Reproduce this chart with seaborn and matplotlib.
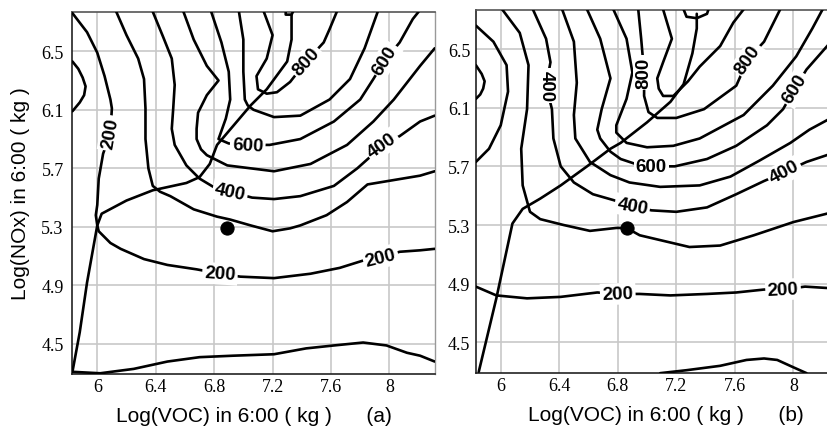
import matplotlib
matplotlib.use('Agg')
import matplotlib.pyplot as plt
import seaborn as sns

# ---------------- data ----------------
x_ticks = [6, 6.4, 6.8, 7.2, 7.6, 8]
x_tick_labels = ['6', '6.4', '6.8', '7.2', '7.6', '8']
y_ticks = [4.5, 4.9, 5.3, 5.7, 6.1, 6.5]
y_tick_labels = ['4.5', '4.9', '5.3', '5.7', '6.1', '6.5']

# panel (a) isopleths
L_arc100_x = [5.83, 5.87, 5.90, 5.92, 5.91, 5.88, 5.83]
L_arc100_y = [6.43, 6.38, 6.32, 6.26, 6.20, 6.15, 6.09]
L_200_x = [5.83, 5.93, 6.00, 6.05, 6.09, 6.10, 6.09, 6.04, 6.01, 6.00, 5.99, 6.00, 6.01, 6.04, 6.09, 6.16, 6.32, 6.48, 6.68, 6.84, 6.98, 7.21, 7.46, 7.66, 7.82, 7.94, 8.07, 8.21, 8.31]
L_200_y = [6.76, 6.63, 6.49, 6.33, 6.17, 6.11, 5.94, 5.80, 5.63, 5.45, 5.38, 5.31, 5.27, 5.24, 5.19, 5.15, 5.08, 5.04, 5.01, 4.98, 4.96, 4.95, 4.98, 5.02, 5.07, 5.09, 5.13, 5.14, 5.15]
L_300_x = [6.13, 6.20, 6.28, 6.32, 6.33, 6.33, 6.35, 6.38, 6.43, 6.50, 6.66, 6.82, 6.91, 7.05, 7.20, 7.32, 7.39, 7.57, 7.71, 7.85, 8.21, 8.31]
L_300_y = [6.77, 6.61, 6.45, 6.31, 6.11, 5.90, 5.70, 5.58, 5.54, 5.51, 5.42, 5.37, 5.35, 5.31, 5.27, 5.29, 5.31, 5.38, 5.47, 5.59, 5.65, 5.68]
L_400_x = [6.38, 6.45, 6.51, 6.53, 6.52, 6.51, 6.53, 6.57, 6.61, 6.70, 6.80, 6.91, 7.06, 7.21, 7.39, 7.62, 7.78, 7.87, 7.95, 8.07, 8.21, 8.31]
L_400_y = [6.77, 6.60, 6.45, 6.27, 6.11, 5.97, 5.86, 5.79, 5.72, 5.63, 5.57, 5.54, 5.50, 5.49, 5.51, 5.58, 5.70, 5.78, 5.86, 5.92, 6.02, 6.06]
L_500_x = [6.59, 6.66, 6.75, 6.83, 6.75, 6.69, 6.68, 6.68, 6.71, 6.75, 6.89, 7.05, 7.21, 7.46, 7.71, 7.89, 8.03, 8.21, 8.31]
L_500_y = [6.77, 6.58, 6.40, 6.30, 6.20, 6.08, 5.97, 5.90, 5.83, 5.79, 5.72, 5.70, 5.68, 5.73, 5.86, 6.02, 6.17, 6.40, 6.52]
L_600_x = [6.78, 6.85, 6.90, 6.91, 6.88, 6.83, 6.90, 7.03, 7.18, 7.39, 7.62, 7.80, 7.89, 7.97, 8.07, 8.16, 8.20]
L_600_y = [6.77, 6.56, 6.36, 6.17, 6.04, 5.90, 5.87, 5.86, 5.86, 5.90, 6.02, 6.17, 6.31, 6.44, 6.56, 6.72, 6.77]
L_700_x = [6.97, 7.00, 7.00, 7.01, 7.03, 7.07, 7.21, 7.39, 7.59, 7.73, 7.83, 7.92]
L_700_y = [6.77, 6.58, 6.36, 6.17, 6.13, 6.10, 6.05, 6.06, 6.17, 6.31, 6.52, 6.77]
L_800_x = [7.14, 7.20, 7.16, 7.09, 7.10, 7.16, 7.23, 7.32, 7.43, 7.55, 7.59, 7.64]
L_800_y = [6.77, 6.61, 6.45, 6.33, 6.24, 6.21, 6.22, 6.29, 6.43, 6.56, 6.65, 6.77]
L_900_x = [7.29, 7.29, 7.33, 7.35]
L_900_y = [6.79, 6.75, 6.75, 6.79]
L_100_x = [5.83, 6.02, 6.25, 6.48, 6.70, 6.93, 7.21, 7.43, 7.62, 7.82, 7.98, 8.12, 8.21, 8.31]
L_100_y = [4.31, 4.30, 4.33, 4.38, 4.41, 4.42, 4.43, 4.47, 4.49, 4.51, 4.49, 4.44, 4.42, 4.38]
L_ridge_x = [5.83, 5.88, 5.93, 6.00, 6.03, 6.20, 6.38, 6.61, 6.70, 6.77, 6.82, 7.05, 7.16, 7.30, 7.33, 7.33]
L_ridge_y = [4.31, 4.58, 4.92, 5.31, 5.39, 5.48, 5.55, 5.60, 5.64, 5.73, 5.86, 6.13, 6.24, 6.43, 6.58, 6.75]
L_dot_x = [6.89]
L_dot_y = [5.29]
L_lab_txt = ['200', '200', '200', '400', '400', '600', '600', '800']
L_lab_x = [6.09, 6.84, 7.94, 6.91, 7.95, 7.03, 7.97, 7.43]
L_lab_y = [5.94, 4.98, 5.09, 5.54, 5.86, 5.86, 6.44, 6.43]
L_lab_rot = [80, -4, 14, -12, 35, -3, 58, 48]

# panel (b) isopleths
R_arc100_x = [5.83, 5.87, 5.89, 5.88, 5.86, 5.83]
R_arc100_y = [6.39, 6.33, 6.28, 6.23, 6.19, 6.16]
R_arc200_x = [5.83, 5.95, 6.04, 6.05, 6.00, 5.92, 5.83]
R_arc200_y = [6.66, 6.55, 6.39, 6.21, 5.98, 5.82, 5.73]
R_200_x = [5.83, 5.97, 6.18, 6.41, 6.66, 6.80, 6.95, 7.16, 7.41, 7.61, 7.80, 7.93, 8.08, 8.24]
R_200_y = [4.88, 4.82, 4.80, 4.81, 4.84, 4.83, 4.83, 4.82, 4.83, 4.84, 4.86, 4.86, 4.88, 4.87]
R_300_x = [6.01, 6.13, 6.19, 6.18, 6.14, 6.15, 6.20, 6.27, 6.43, 6.61, 6.79, 6.86, 6.95, 7.29, 7.50, 7.73, 8.00, 8.24]
R_300_y = [6.77, 6.61, 6.39, 6.09, 5.82, 5.57, 5.39, 5.34, 5.30, 5.26, 5.28, 5.28, 5.23, 5.15, 5.16, 5.23, 5.32, 5.38]
R_400_x = [6.22, 6.31, 6.34, 6.31, 6.35, 6.36, 6.41, 6.50, 6.63, 6.77, 6.90, 7.03, 7.20, 7.41, 7.61, 7.80, 7.94, 8.09, 8.24]
R_400_y = [6.77, 6.57, 6.41, 6.25, 6.09, 5.89, 5.70, 5.59, 5.51, 5.47, 5.43, 5.40, 5.39, 5.42, 5.51, 5.60, 5.66, 5.73, 5.78]
R_500_x = [6.42, 6.50, 6.52, 6.50, 6.51, 6.61, 6.75, 6.88, 7.09, 7.36, 7.57, 7.77, 7.98, 8.11, 8.24]
R_500_y = [6.77, 6.55, 6.27, 6.05, 5.89, 5.73, 5.64, 5.59, 5.56, 5.57, 5.63, 5.74, 5.86, 5.95, 6.02]
R_600_x = [6.59, 6.68, 6.75, 6.69, 6.66, 6.68, 6.75, 6.82, 6.91, 7.03, 7.19, 7.41, 7.61, 7.82, 7.93, 8.01, 8.09, 8.24]
R_600_y = [6.77, 6.57, 6.30, 6.09, 5.95, 5.89, 5.80, 5.75, 5.72, 5.70, 5.70, 5.75, 5.84, 5.98, 6.09, 6.23, 6.36, 6.53]
R_700_x = [6.77, 6.86, 6.90, 6.86, 6.79, 6.79, 6.86, 7.00, 7.18, 7.36, 7.66, 7.86, 8.02, 8.13, 8.20]
R_700_y = [6.77, 6.57, 6.34, 6.16, 5.98, 5.93, 5.86, 5.83, 5.84, 5.89, 6.05, 6.25, 6.45, 6.64, 6.77]
R_800_x = [6.94, 6.96, 6.98, 6.98, 7.01, 7.07, 7.20, 7.39, 7.61, 7.69, 7.80, 7.91]
R_800_y = [6.77, 6.57, 6.34, 6.18, 6.07, 6.03, 6.03, 6.09, 6.25, 6.43, 6.55, 6.77]
R_900_x = [7.11, 7.17, 7.11, 7.07, 7.08, 7.11, 7.18, 7.28, 7.36, 7.50, 7.59, 7.66]
R_900_y = [6.77, 6.57, 6.41, 6.30, 6.23, 6.18, 6.18, 6.28, 6.38, 6.52, 6.68, 6.77]
R_1000_x = [7.25, 7.27, 7.34, 7.41, 7.42]
R_1000_y = [6.77, 6.72, 6.71, 6.74, 6.77]
R_100_x = [7.09, 7.27, 7.50, 7.68, 7.80, 7.89, 8.00, 8.09]
R_100_y = [4.29, 4.31, 4.34, 4.38, 4.39, 4.38, 4.33, 4.29]
R_ridge_x = [5.85, 5.97, 6.08, 6.15, 6.27, 6.41, 6.59, 6.75, 6.82, 7.00, 7.16, 7.25, 7.31, 7.34, 7.34]
R_ridge_y = [4.30, 4.80, 5.31, 5.41, 5.48, 5.57, 5.70, 5.82, 5.86, 6.00, 6.14, 6.26, 6.47, 6.64, 6.74]
R_dot_x = [6.86]
R_dot_y = [5.28]
R_lab_txt = ['400', '800', '400', '600', '800', '600', '400', '200', '200']
R_lab_x = [6.31, 6.98, 6.90, 7.03, 7.69, 8.01, 7.94, 6.80, 7.93]
R_lab_y = [6.25, 6.34, 5.43, 5.70, 6.43, 6.23, 5.66, 4.83, 4.86]
R_lab_rot = [-90, 90, -10, 0, 55, 58, 28, 2, 3]

x_label = 'Log(VOC) in 6:00 ( kg )'
y_label = 'Log(NOx) in 6:00 ( kg )'
panel_tags = ['(a)', '(b)']

# ---------------- style ----------------
sns.set_theme(style='whitegrid')
plt.rcParams['font.family'] = ['Liberation Sans', 'DejaVu Sans']
plt.rcParams['text.color'] = 'black'
plt.rcParams['axes.labelcolor'] = 'black'

fig = plt.figure(figsize=(8.28, 4.39), dpi=100)
axL = fig.add_axes([72 / 828, 1 - 375 / 439, 363 / 828, 362 / 439])
axR = fig.add_axes([476 / 828, 1 - 374 / 439, 352 / 828, 363.3 / 439])

L_lines = [(L_arc100_x, L_arc100_y), (L_200_x, L_200_y), (L_300_x, L_300_y),
           (L_400_x, L_400_y), (L_500_x, L_500_y), (L_600_x, L_600_y),
           (L_700_x, L_700_y), (L_800_x, L_800_y), (L_900_x, L_900_y),
           (L_100_x, L_100_y), (L_ridge_x, L_ridge_y)]
R_lines = [(R_arc100_x, R_arc100_y), (R_arc200_x, R_arc200_y), (R_200_x, R_200_y),
           (R_300_x, R_300_y), (R_400_x, R_400_y), (R_500_x, R_500_y),
           (R_600_x, R_600_y), (R_700_x, R_700_y), (R_800_x, R_800_y),
           (R_900_x, R_900_y), (R_1000_x, R_1000_y), (R_100_x, R_100_y),
           (R_ridge_x, R_ridge_y)]


def draw(ax, lines, dot_x, dot_y, lab_x, lab_y, lab_txt, lab_rot, xlim, ylim, tag, ytickpad):
    for xs, ys in lines:
        sns.lineplot(x=xs, y=ys, sort=False, estimator=None, ax=ax, color='black',
                     linewidth=1.9, legend=False, zorder=3)
    sns.scatterplot(x=dot_x, y=dot_y, ax=ax, color='black', s=90, zorder=5,
                    edgecolor='black', legend=False)
    for tx, ty, t, r in zip(lab_x, lab_y, lab_txt, lab_rot):
        ax.text(tx, ty, t, rotation=r, rotation_mode='anchor', ha='center', va='center',
                fontsize=13.5, fontweight='bold', color='black',
                family=['Liberation Sans', 'DejaVu Sans'],
                zorder=4, bbox=dict(boxstyle='square,pad=0.12', fc='white', ec='none'))
    ax.set_xlim(*xlim)
    ax.set_ylim(*ylim)
    ax.set_xticks(x_ticks)
    ax.set_xticklabels(x_tick_labels)
    ax.set_yticks(y_ticks)
    ax.set_yticklabels(y_tick_labels)
    for lab in ax.get_xticklabels() + ax.get_yticklabels():
        lab.set_family(['Liberation Serif', 'DejaVu Serif'])
        lab.set_fontsize(13)
        lab.set_color('black')
    ax.tick_params(axis='both', length=0)
    ax.tick_params(axis='x', pad=3)
    ax.tick_params(axis='y', pad=ytickpad)
    ax.grid(True, color='#c8c8c8', linewidth=1.2, zorder=0)
    ax.set_axisbelow(True)
    ax.set_facecolor('white')
    for side in ['left', 'bottom']:
        ax.spines[side].set_color('#222222')
        ax.spines[side].set_linewidth(1.2)
    ax.spines['top'].set_color('#555555')
    ax.spines['top'].set_linewidth(1.2)
    ax.spines['right'].set_color('#999999')
    ax.spines['right'].set_linewidth(1.0)
    ax.set_xlabel(x_label + '      ' + tag, fontsize=15, color='black')
    ax.xaxis.label.set_verticalalignment('center')
    ax.set_ylabel('')


draw(axL, L_lines, L_dot_x, L_dot_y, L_lab_x, L_lab_y, L_lab_txt, L_lab_rot,
     (5.827, 8.312), (4.295, 6.768), panel_tags[0], 6)
draw(axR, R_lines, R_dot_x, R_dot_y, R_lab_x, R_lab_y, R_lab_txt, R_lab_rot,
     (5.831, 8.237), (4.291, 6.768), panel_tags[1], 4)

axL.xaxis.set_label_coords(0.5, -0.115)
axR.xaxis.set_label_coords(0.54, -0.115)
axL.set_ylabel(y_label, fontsize=15, color='black')
axL.yaxis.label.set_verticalalignment('center')
axL.yaxis.set_label_coords(-0.143, 0.5)
axR.spines['right'].set_visible(False)

fig.savefig('out.png', dpi=100)
